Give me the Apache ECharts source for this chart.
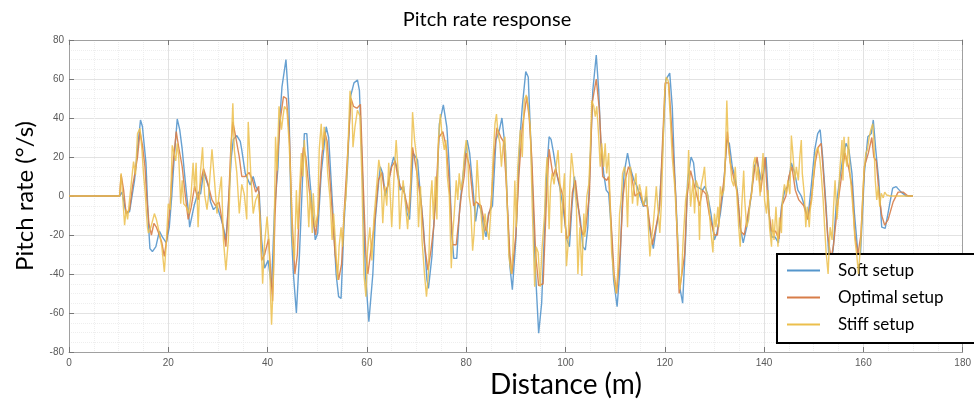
<!DOCTYPE html>
<html>
<head>
<meta charset="utf-8">
<script src="https://cdn.jsdelivr.net/npm/echarts@6/dist/echarts.min.js"></script>
<style>html,body{margin:0;padding:0;background:#fff;}#c{width:974px;height:403px;}</style>
</head>
<body>
<div id="c"></div>
<script>
const seriesNames = ['Soft setup', 'Optimal setup', 'Stiff setup'];
const xTicks = [0, 20, 40, 60, 80, 100, 120, 140, 160, 180];
const yTicks = [-80, -60, -40, -20, 0, 20, 40, 60, 80];

const soft = [
[0,0],[10.2,0],[10.7,2],[11.5,-9],[12.2,-8],[13.2,8],[13.8,24],[14.4,39],[14.8,35.5],[15.0,30],[15.5,17],[15.8,-2],[16.0,-14],[16.3,-27],[16.8,-28.5],[17.5,-26],[18.2,-18],[18.8,-21],[19.6,-24],[20.2,-16],[20.7,0],[21.2,20],[21.8,39.5],[22.3,34],[22.8,24],[23.4,8],[23.8,-2],[24.1,-9],[24.3,-16],[25.2,-5],[26.0,2],[26.5,1],[27.1,12],[27.5,13],[28.1,5],[28.5,-3],[29.1,-7],[29.8,-5],[30.5,-10.6],[31.1,-16],[31.6,-22.5],[32.1,-5],[32.7,20],[33.1,29],[33.8,31],[34.5,28],[34.8,23.6],[35.5,11.6],[36.5,5.6],[37.1,10],[37.6,5],[38.3,2],[38.8,-22.5],[39.4,-37],[40.1,-33],[40.8,-46.5],[41.4,-7],[42.1,15],[42.4,37],[42.9,56],[43.7,70],[44.3,46],[44.8,-19],[45.2,-40],[45.8,-60],[46.4,-31],[46.9,0],[47.4,32],[47.9,32],[48.4,11.6],[49.1,-9],[49.6,-22.5],[50.1,-19],[50.8,11.6],[51.8,35.5],[52.3,30],[53.1,-5.5],[53.8,-40],[54.3,-51.6],[54.8,-52.5],[55.4,-14],[56.1,15],[56.7,51],[57.4,58],[58.1,59.5],[58.5,54],[59.1,11.6],[59.7,-40],[60.4,-64.4],[61.2,-40],[61.7,-12],[62.4,8],[62.7,15],[63.2,11.6],[63.7,0],[64.2,5],[64.9,15],[65.4,20],[66.0,15],[66.4,10],[66.7,3],[67.4,5],[68.1,-9],[68.6,-12],[69.3,22],[69.7,22],[70.2,18.5],[70.7,3],[71.4,-16],[72.1,-43],[72.4,-47.4],[73.1,-31],[73.6,-9],[74.1,3],[74.6,37],[75.4,46.7],[76.1,35.5],[76.6,15],[77.1,-19],[77.5,-32],[78.1,-32],[78.7,-5.5],[79.4,11.6],[80.2,28.7],[80.7,22],[81.4,3],[81.9,-13],[82.4,-4],[83.0,-7],[83.5,-16],[84.0,-21],[84.5,-9],[85.3,-5],[86.0,28.7],[86.7,34],[87.2,40],[87.9,23.6],[88.3,-5.5],[88.8,-36],[89.3,-48],[90.0,-22.5],[90.8,28.7],[91.3,45.8],[92.0,63.8],[92.5,61],[93.0,28.7],[93.5,-5.5],[93.9,-36],[94.6,-70.4],[95.2,-55],[95.7,-22.5],[96.2,11.6],[96.7,30.4],[97.1,29],[97.6,22],[98.2,11.6],[98.8,5],[99.5,-5.5],[100.3,-22.5],[100.8,-26],[101.3,-5.5],[101.8,10],[102.3,-2],[103.0,-12],[103.5,-26],[104.0,-27.7],[104.5,-16],[105.0,20],[105.5,54],[106.2,72.3],[106.7,54],[107.1,28.7],[107.7,11.6],[108.2,3],[108.7,1.4],[109.2,-16],[109.7,-43],[110.4,-56.8],[110.9,-40],[111.4,-5.5],[111.8,11.6],[112.5,22],[113.0,15],[113.8,8],[114.4,5],[115.0,0],[115.7,-5.5],[116.3,0],[116.9,-16],[117.7,-27],[118.3,-16],[118.8,-9],[119.5,20],[120.2,59.5],[121.0,63],[121.5,46],[122.0,11.6],[122.5,-16],[123.0,-46.5],[123.6,-55],[124.2,-22.5],[124.6,8],[125.3,20],[125.8,17],[126.3,5],[127.0,4],[127.6,3],[128.1,5],[128.6,1],[129.3,-9],[130.0,-22.5],[130.5,-19],[131.2,-9],[131.8,3],[132.5,28.7],[133.0,27],[133.6,15],[134.1,10],[134.6,3],[135.2,-16],[135.8,-24],[136.5,-16],[137.3,-2],[138.0,15],[138.6,18.5],[139.4,8],[139.9,11.6],[140.4,20],[141.1,-12],[141.5,-21],[142.2,-21],[142.9,-24],[143.5,-5.5],[144.2,3],[144.8,5],[145.5,17],[146.2,11.6],[146.8,3],[147.5,0],[148.2,-5.5],[148.8,-12],[149.5,5],[150.2,23.6],[150.8,32],[151.3,34],[151.8,20],[152.5,-5.5],[153.0,-29],[153.4,-34],[153.9,-28],[154.5,-5.5],[155.2,8],[155.8,18.5],[156.5,27],[157.1,23.6],[157.7,11.6],[158.2,-9],[158.9,-29],[159.3,-36],[159.8,-10],[160.2,11.6],[160.9,30.4],[161.6,32],[162.0,39],[162.5,23.6],[163.1,8],[163.7,-16],[164.4,-16.6],[165.1,-7],[165.9,4],[166.6,4.8],[167.6,2],[168.6,0],[170,0]
];

const optimal = [
[0,0],[10.2,0],[10.5,11],[11.0,3],[11.5,-9],[12.2,-7],[12.8,5],[13.3,12],[13.8,20],[14.3,33],[14.8,26],[15.3,15],[15.7,-2],[16.1,-14],[16.6,-20],[17.1,-14],[17.6,-16],[18.2,-20],[18.7,-24],[19.2,-31],[19.7,-22],[20.2,-10],[20.8,12],[21.6,33],[22.1,25],[22.8,15],[23.3,3],[24.0,-12],[24.6,-6],[25.3,5],[26.0,-2],[26.6,8],[27.1,14],[27.6,10],[28.1,5],[28.8,-2],[29.5,-5],[30.2,-3],[30.8,-12],[31.6,-26],[32.1,-5],[32.6,25],[33.0,38],[33.6,30],[34.3,20],[34.8,10],[35.5,10],[36.3,12],[37.0,8],[37.6,2],[38.2,5],[38.8,-33],[39.4,-30],[40.2,-22],[41.0,-54],[41.5,-10],[42.0,20],[42.6,40],[43.2,51],[43.8,50],[44.4,30],[44.9,-10],[45.5,-40],[46.0,-30],[46.6,5],[47.2,25],[47.7,20],[48.3,5],[49.0,-10],[49.7,-20],[50.3,-5],[50.9,20],[51.5,33],[52.0,28],[52.8,0],[53.6,-30],[54.3,-43],[54.9,-35],[55.5,-5],[56.2,25],[56.8,50],[57.3,46],[58.0,45],[58.7,47],[59.2,10],[59.8,-30],[60.2,-40],[60.8,-28],[61.5,-15],[62.3,8],[63.0,12],[63.6,2],[64.2,5],[65.0,15],[65.7,18],[66.2,10],[66.7,5],[67.5,2],[68.5,-9],[69.2,25],[70.0,13],[71.0,-5],[71.6,-25],[72.3,-38],[72.9,-28],[73.5,-15],[74.0,5],[74.5,30],[75.3,33],[76.0,25],[76.5,10],[77.3,-25],[78.0,-25],[79.0,0],[79.6,10],[80.0,22],[80.7,15],[81.5,-5],[82.0,-3],[83.0,-5],[84.0,-18],[84.5,-10],[85.0,-5],[85.6,20],[86.2,35],[87.0,30],[87.5,28],[88.0,10],[88.8,-30],[89.2,-40],[90.0,-20],[90.6,10],[91.3,35],[92.2,51],[92.7,40],[93.2,20],[94.0,-30],[94.6,-46],[95.5,-45],[96.2,0],[96.7,24],[97.5,10],[98.0,14],[98.6,8],[99.5,0],[100.2,-22],[100.8,-20],[101.4,2],[102.0,8],[103.0,-15],[103.5,-20],[104.0,-18],[104.8,0],[105.4,48],[106.2,60],[106.8,45],[107.5,10],[108.3,8],[108.7,10],[109.3,-18],[109.8,-40],[110.3,-50],[111.0,-30],[111.6,0],[112.0,8],[112.7,15],[113.2,12],[114.0,0],[115.0,2],[115.8,-5],[116.5,-5],[117.5,-25],[118.3,-15],[119.0,-5],[119.5,25],[120.1,58],[120.8,58],[121.5,30],[122.2,0],[122.9,-50],[123.3,-50],[124.0,-30],[124.5,0],[125.2,13],[126.0,5],[127.0,-5],[127.6,3],[128.3,1],[129.0,-10],[130.0,-20],[130.6,-20],[131.0,-10],[132.0,10],[132.6,33],[133.2,17],[134.0,8],[134.6,2],[135.3,-18],[136.0,-20],[136.7,-10],[137.4,0],[138.0,12],[138.6,20],[139.3,2],[140.2,20],[140.8,-5],[141.5,-18],[142.3,-18],[143.0,-22],[143.6,-5],[144.4,0],[145.0,10],[145.6,15],[146.3,3],[147.0,-2],[148.0,-5],[148.8,-12],[149.5,-2],[150.3,17],[150.9,25],[151.5,27],[152.0,10],[152.8,-20],[153.5,-32],[154.0,-25],[154.8,-5],[155.6,10],[156.3,22],[157.0,15],[157.7,5],[158.3,-20],[158.9,-30],[159.5,-20],[160.2,15],[161.0,22],[161.7,30],[162.1,20],[162.6,18],[163.2,0],[163.7,-10],[164.3,-15],[165.0,-12],[166.0,-3],[167.0,2],[168.0,2],[169.0,0],[170.0,0]
];

const stiff = [
[0,0],[10.2,0],[10.5,11.6],[11.2,-15],[11.5,-7],[11.8,-12],[12.4,3],[13.0,17.6],[13.4,11],[13.8,32],[14.3,34.7],[14.7,23.6],[15.0,11.6],[15.4,0],[15.6,-9],[15.8,-16],[16.0,-19],[16.5,-16],[17.2,-9],[17.6,-12],[18.2,-19],[18.7,-26],[19.2,-39],[19.6,-24],[20.0,-4],[20.4,-7],[20.8,26],[21.2,27],[21.5,18],[21.8,27],[22.1,20],[22.5,-4],[22.8,8],[23.1,-4],[23.6,-5.5],[24.1,-9],[24.6,1],[25.0,17],[25.3,3],[25.6,17],[26.0,-16],[26.5,13],[26.9,25],[27.3,1],[27.8,-7],[28.1,0],[28.8,24],[29.3,8],[29.8,-9],[30.2,0],[30.7,10],[31.1,-22.5],[31.6,-38],[32.1,-22.5],[32.5,15],[33.0,47.5],[33.3,23.6],[33.8,12],[34.3,-9],[34.8,6],[35.3,1],[35.8,-12],[36.1,38],[36.6,12],[37.1,-9],[37.6,-2],[38.1,1],[38.6,-16],[39.0,-45],[39.4,-24],[39.9,-10.6],[40.3,-24],[40.6,-51.6],[40.8,-66],[41.2,-40],[41.6,30.4],[41.9,13],[42.3,46],[42.8,34],[43.1,40.7],[43.4,46],[43.9,44],[44.3,28.7],[44.6,12],[45.0,-22.5],[45.4,-33],[45.8,3],[46.1,-17],[46.4,1],[46.8,22],[47.1,10],[47.4,28.7],[47.9,6],[48.3,-16],[48.6,3],[49.0,-19],[49.2,1.4],[49.6,-16],[50.1,-9],[50.4,23.6],[50.8,37],[51.1,23.6],[51.4,35.5],[51.8,27],[52.1,12],[52.6,-2],[53.0,-22.5],[53.3,-9],[53.6,-21],[54.1,-43],[54.4,-26],[54.8,-16],[55.1,-26],[55.4,-9],[55.8,0],[56.1,18.5],[56.6,54],[57.0,46],[57.2,25],[57.6,35.5],[58.1,44],[58.6,41],[59.0,8],[59.4,-40],[59.8,-51.6],[60.1,-29],[60.6,-16],[61.0,-33],[61.4,-12],[61.9,3],[62.4,18.5],[62.8,12],[63.2,-14],[63.6,5],[64.0,-5],[64.4,17],[65.0,-16],[65.5,12],[65.9,28.7],[66.3,12],[66.6,-17],[67.0,-2],[67.3,8],[67.8,-5],[68.2,-17],[68.8,5],[69.2,43],[69.6,28.7],[70.0,20],[70.4,-16],[70.8,5],[71.1,-22.5],[71.6,-40],[72.0,-51.6],[72.4,-40],[72.8,-2],[73.1,8],[73.4,-12],[73.8,10],[74.1,-12],[74.4,28.7],[74.8,42],[75.1,32],[75.6,23.6],[75.9,28.7],[76.2,10],[76.6,0],[77.0,-37],[77.3,-19],[77.6,-9],[78.0,8],[78.3,-2],[78.6,11.6],[78.9,3],[79.3,8],[79.6,20],[80.0,28.7],[80.3,22],[80.6,0],[80.9,-5.5],[81.3,-28],[81.6,-19],[82.0,3],[82.2,18.5],[82.6,0],[83.0,-9],[83.4,-22.5],[83.8,-9],[84.1,-16],[84.6,-22.5],[85.1,-2],[85.4,18.5],[85.8,37],[86.1,42],[86.4,32],[86.8,27],[87.1,15],[87.4,25],[87.8,30.4],[88.2,0],[88.6,-31],[89.1,-40],[89.4,-29],[89.8,8],[90.1,-16],[90.4,15],[90.9,34],[91.3,20],[91.7,49],[92.1,51.8],[92.5,46],[92.9,35.5],[93.3,-5],[93.8,-46.5],[94.1,-26],[94.5,-29],[94.9,-46.5],[95.3,-26],[95.8,-9],[96.0,8],[96.3,20],[96.7,-17],[97.0,5],[97.3,11.6],[97.7,6],[98.0,5],[98.5,23.6],[98.9,6],[99.2,-19],[99.5,1],[99.8,11.6],[100.2,-36],[100.5,-26],[100.9,6],[101.2,22],[101.5,15],[101.9,15],[102.2,-5],[102.5,-40],[102.9,-16],[103.3,-41],[103.7,-9],[103.9,-21],[104.3,0],[104.7,6],[105.0,23.6],[105.3,49],[105.7,46],[106.0,40.7],[106.3,46],[106.7,30],[107.0,15],[107.3,27],[107.7,15],[108.0,27],[108.3,11.6],[108.7,22],[109.0,-5.5],[109.3,-29],[109.7,-40],[110.2,-50],[110.5,-40],[110.9,-9],[111.2,-2],[111.5,11.6],[111.9,15],[112.2,8],[112.5,-16],[112.8,11.6],[113.1,15],[113.5,-4],[113.8,5],[114.2,11.6],[114.5,-5],[114.9,6],[115.3,1],[115.7,-5],[116.0,-2],[116.3,5],[116.7,-16],[117.0,-31],[117.3,-22.5],[117.7,-14],[118.0,-5],[118.3,5],[118.7,-9],[119.0,-19],[119.3,-5],[119.7,28.7],[120.0,54],[120.3,61],[120.7,59],[121.1,40.7],[121.5,20],[122.0,5],[122.3,-9],[122.7,-26],[123.0,-48],[123.4,-40],[123.7,-22.5],[124.2,-2],[124.6,5],[124.8,23.6],[125.2,-5.5],[125.7,8],[126.0,-9],[126.3,8],[126.7,5],[127.0,-22.5],[127.3,5],[127.7,10],[128.0,15],[128.3,3],[128.7,0],[129.0,-9],[129.3,-19],[129.7,-29],[130.0,-9],[130.3,-16],[130.7,-5.5],[130.9,-16],[131.2,5],[131.5,0],[131.9,3],[132.1,11.6],[132.5,49],[132.8,25],[133.2,17],[133.5,8],[133.9,5],[134.2,15],[134.5,1],[134.9,-16],[135.2,-26],[135.5,-5.5],[135.9,13],[136.1,-2],[136.5,-16],[136.9,-12],[137.2,-2],[137.5,1],[137.9,17],[138.2,20],[138.5,8],[138.8,15],[139.2,0],[139.5,11.6],[139.8,22],[140.1,-2],[140.5,-9],[140.8,3],[141.1,-16],[141.5,-26],[141.7,-12],[142.0,-22.5],[142.4,-5.5],[142.8,-26],[143.1,-11],[143.5,-19],[143.7,-2],[144.1,6],[144.5,1],[144.8,8],[145.2,1],[145.5,31],[145.9,18.5],[146.2,8],[146.5,15],[146.9,8],[147.2,20],[147.5,28.7],[147.7,11.6],[148.1,1],[148.4,-16],[148.7,-5.5],[149.1,-16],[149.3,-7],[149.6,-2],[150.0,11.6],[150.4,22],[150.8,25],[151.2,20],[151.5,11.6],[151.9,-2],[152.2,-16],[152.5,-29],[152.9,-40],[153.3,-16],[153.7,-22.5],[154.0,-5.5],[154.3,8],[154.7,-12],[155.0,0],[155.3,15],[155.7,28.7],[155.9,8],[156.1,30.4],[156.4,20],[156.7,15],[157.0,30.4],[157.3,11.6],[157.7,0],[158.0,-10],[158.3,-22.5],[158.7,-31],[159.0,-40],[159.5,-22.5],[159.9,1.4],[160.1,11.6],[160.5,22],[160.8,23.6],[161.2,30.4],[161.5,34],[161.9,37],[162.1,28.7],[162.4,8],[162.7,-2],[163.0,5],[163.3,-5.5],[163.6,1.4],[164.0,-1],[164.3,2],[164.7,0.5],[165.3,0],[170,0]
];

const colors = ['#5596cc', '#d77d48', '#ecbf4c'];
const chart = echarts.init(document.getElementById('c'), null, {renderer: 'canvas'});
const axisGray = '#a0a0a0';
const labelStyle = {color: '#5a5a5a', fontSize: 10, fontFamily: 'Liberation Sans, Arial, sans-serif'};

chart.setOption({
  animation: false,
  backgroundColor: '#ffffff',
  color: colors,
  title: {
    text: 'Pitch rate response',
    left: 'center',
    top: 5,
    textStyle: {fontFamily: 'Lato', fontWeight: 'normal', fontSize: 20, color: '#000'}
  },
  grid: {left: 69, right: 3, top: 40, bottom: 51, containLabel: false},
  legend: {
    data: seriesNames,
    orient: 'vertical',
    left: 777,
    top: 254,
    padding: [8, 40, 10, 10],
    itemGap: 10,
    itemWidth: 33,
    itemHeight: 2,
    icon: 'rect',
    borderColor: '#000',
    borderWidth: 2,
    borderRadius: 0,
    backgroundColor: '#ffffff',
    textStyle: {fontFamily: 'Lato', fontSize: 17, color: '#000', padding: [0, 0, 0, 13]}
  },
  xAxis: [{
    type: 'value',
    min: xTicks[0], max: xTicks[xTicks.length - 1], interval: 20,
    axisLine: {show: true, onZero: false, lineStyle: {color: axisGray, width: 1}},
    axisTick: {show: true, inside: true, length: 5, lineStyle: {color: '#777'}},
    axisLabel: Object.assign({margin: 6}, labelStyle),
    splitLine: {show: true, lineStyle: {color: '#e2e2e2', width: 1}},
    minorTick: {show: false, splitNumber: 4},
    minorSplitLine: {show: true, lineStyle: {color: '#eeeeee', type: 'dotted', width: 1}}
  }, {
    type: 'value', position: 'top',
    min: xTicks[0], max: xTicks[xTicks.length - 1], interval: 20,
    axisLine: {show: true, onZero: false, lineStyle: {color: axisGray, width: 1}},
    axisTick: {show: true, inside: true, length: 5, lineStyle: {color: '#777'}},
    axisLabel: {show: false},
    splitLine: {show: false}
  }],
  yAxis: [{
    type: 'value',
    min: yTicks[0], max: yTicks[yTicks.length - 1], interval: 20,
    axisLine: {show: true, onZero: false, lineStyle: {color: axisGray, width: 1}},
    axisTick: {show: true, inside: true, length: 5, lineStyle: {color: '#777'}},
    axisLabel: Object.assign({margin: 5}, labelStyle),
    splitLine: {show: true, lineStyle: {color: '#e2e2e2', width: 1}},
    minorTick: {show: false, splitNumber: 4},
    minorSplitLine: {show: true, lineStyle: {color: '#eeeeee', type: 'dotted', width: 1}}
  }, {
    type: 'value', position: 'right',
    min: yTicks[0], max: yTicks[yTicks.length - 1], interval: 20,
    axisLine: {show: true, onZero: false, lineStyle: {color: axisGray, width: 1}},
    axisTick: {show: false},
    axisLabel: {show: false},
    splitLine: {show: false}
  }],
  graphic: [
    {type: 'text', x: 566, y: 385, z: 100,
     style: {text: 'Distance (m)', align: 'center', verticalAlign: 'middle', textAlign: 'center', textVerticalAlign: 'middle',
             font: '28px Lato', fill: '#000'}},
    {type: 'text', x: 25, y: 196, rotation: Math.PI / 2, z: 100,
     style: {text: 'Pitch rate (°/s)', align: 'center', verticalAlign: 'middle', textAlign: 'center', textVerticalAlign: 'middle',
             font: '24px Lato', fill: '#000'}}
  ],
  series: [
    {name: seriesNames[0], type: 'line', data: soft, showSymbol: false, lineStyle: {width: 1.4, color: colors[0], opacity: 0.9}, z: 2},
    {name: seriesNames[1], type: 'line', data: optimal, showSymbol: false, lineStyle: {width: 1.4, color: colors[1], opacity: 0.9}, z: 3},
    {name: seriesNames[2], type: 'line', data: stiff, showSymbol: false, lineStyle: {width: 1.4, color: colors[2], opacity: 0.85}, z: 4}
  ]
});
</script>
</body>
</html>
